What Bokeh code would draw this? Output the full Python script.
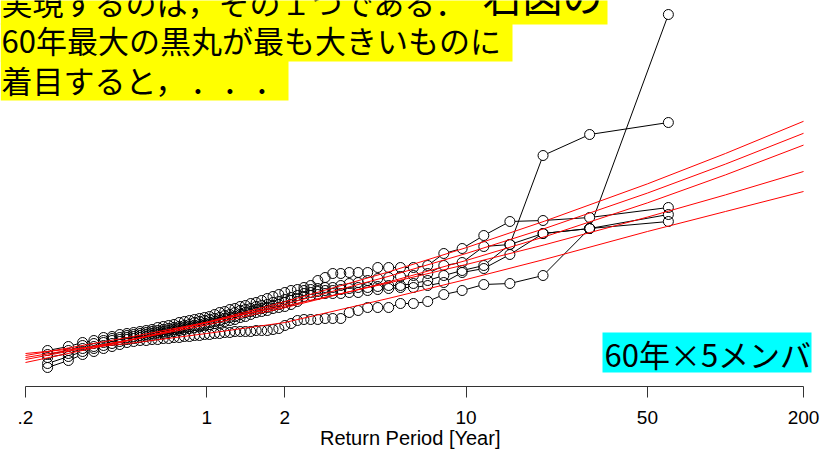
from bokeh.plotting import figure
from bokeh.models import Range1d, FixedTicker, Label, BoxAnnotation
from bokeh.embed import file_html
from bokeh.resources import INLINE

# plotting positions (return period, years) of the 60 ranked annual maxima
return_period = [0.2433, 0.2926, 0.3320, 0.3670, 0.3998, 0.4312, 0.4619, 0.4922, 0.5226, 0.5530,
                 0.5838, 0.6150, 0.6468, 0.6794, 0.7129, 0.7472, 0.7827, 0.8193, 0.8573, 0.8967,
                 0.9377, 0.9805, 1.025, 1.072, 1.121, 1.173, 1.227, 1.284, 1.345, 1.409,
                 1.477, 1.550, 1.628, 1.711, 1.800, 1.896, 2.000, 2.113, 2.236, 2.370,
                 2.517, 2.680, 2.860, 3.061, 3.287, 3.542, 3.834, 4.172, 4.564, 5.028,
                 5.584, 6.262, 7.112, 8.203, 9.653, 11.70, 14.75, 19.80, 29.94, 60.24]

# sorted 60-year maxima of the five ensemble members
member_1 = [18, 20, 22, 23, 24.5, 25, 26, 26.5, 27, 27.5,
            28, 28.5, 29.5, 30, 30.5, 31, 32, 32.5, 33, 33.5,
            34, 34.5, 35, 36, 37, 37.5, 38.5, 39, 40, 40.5,
            41.5, 42, 43, 44, 45, 46, 47, 48, 48.5, 49.5,
            50.5, 53, 54.5, 56.5, 56.5, 57, 57, 57, 59.5, 59.5,
            59.5, 59.5, 60.5, 66.5, 69, 75.5, 82.5, 83, 84.5, 89.5]
member_2 = [16, 18, 20.5, 21.5, 23, 24, 24.5, 25.5, 26, 26.5,
            27, 27.5, 28, 28.5, 29, 29.5, 30, 30.5, 31, 32,
            32.5, 33, 33.5, 34, 34.5, 35.5, 36, 37, 38, 38.5,
            39, 40, 40.5, 41, 42, 42.5, 43.5, 44.5, 45.5, 48,
            48.5, 49, 49.5, 49.5, 50.5, 51.5, 52, 53, 54, 54.5,
            55, 55.5, 56.5, 60.5, 62, 70, 71, 115.5, 126, 132]
member_3 = [14.5, 16.5, 19, 20, 22, 23, 23.5, 24.5, 25, 25.5,
            26, 26.5, 27, 27.5, 28, 28.5, 29, 29.5, 30, 30.5,
            31, 31.5, 32, 32.5, 33, 34, 34.5, 35, 36, 37,
            37.5, 38.5, 39, 39.5, 40.5, 41, 42, 43, 44, 46.5,
            47, 47.5, 48, 48, 48.5, 49, 49.5, 49.5, 50, 50.5,
            50.5, 51.5, 53, 55.5, 58, 60.5, 71, 76.5, 79, 86]
member_4 = [11.5, 15, 17.5, 19, 20.5, 21.5, 22.5, 23.5, 24, 24.5,
            25, 25.5, 26, 26.5, 27, 27.5, 28, 28.5, 29, 29.5,
            30, 30.5, 31, 31.5, 32, 32.5, 33, 33.5, 34.5, 35,
            36, 37, 37.5, 38, 39, 39.5, 40, 41, 42.5, 45,
            45.5, 46, 46.5, 46.5, 46.5, 47, 47, 48, 48.5, 49,
            49.5, 49.5, 50.5, 52, 57, 59, 66, 76.5, 79, 82.5]
member_5 = [9.5, 13, 16, 17.5, 19, 20, 21, 22, 22.5, 23,
            23, 23.5, 23.5, 24, 24, 24.5, 24.5, 25, 25, 25.5,
            25.5, 26, 26, 26.5, 26.5, 27, 27, 27.5, 27.5, 27.5,
            27.5, 28, 28, 28, 28.5, 29, 30.5, 31.5, 33, 33.5,
            33.5, 33.5, 34, 34, 34, 37, 38, 39.5, 39.5, 39.5,
            41.5, 41.5, 42.5, 46, 48, 51, 51.5, 55.5, 79, 186]

# fitted return-level curves of the five members
fit_period = [0.2, 0.5, 1, 2, 5, 10, 20, 50, 100, 200]
fit_1 = [12, 22.9, 32.2, 42.4, 57.2, 69.4, 82.6, 101.3, 116.5, 132.6]
fit_2 = [13.5, 23.3, 31.8, 41.2, 55, 66.5, 78.9, 96.7, 111.2, 126.6]
fit_3 = [14.5, 23.1, 30.8, 39.4, 52.2, 63, 74.8, 91.8, 105.8, 120.7]
fit_4 = [15.5, 24.6, 32.1, 40.2, 51.7, 61, 70.8, 84.7, 95.8, 107.5]
fit_5 = [16.5, 21.5, 26.5, 32, 44, 53.5, 63.5, 77.5, 87.5, 97.5]

tick_vals = [0.2, 1, 2, 10, 50, 200]
tick_labels = [".2", "1", "2", "10", "50", "200"]

note_line1a = "実現するのは，その１つである．"
note_line1b = "右図の"
note_line2 = "60年最大の黒丸が最も大きいものに"
note_line3 = "着目すると，"
note_dot = "．"
member_note = "60年×5メンバ"
x_title = "Return Period  [Year]"

members = [member_1, member_2, member_3, member_4, member_5]
fits = [fit_1, fit_2, fit_3, fit_4, fit_5]

p = figure(frame_width=825, frame_height=386, x_axis_type="log",
           x_range=Range1d(0.16017, 243.1), y_range=Range1d(0, 193),
           y_axis_location=None, output_backend="svg", toolbar_location=None,
           min_border_left=0, min_border_right=0, min_border_top=0, min_border_bottom=65,
           outline_line_color=None, background_fill_color="white", border_fill_color="white")
p.grid.visible = False

ax = p.xaxis[0]
ax.ticker = FixedTicker(ticks=tick_vals)
ax.bounds = (tick_vals[0], tick_vals[-1])
ax.major_label_overrides = dict(zip(tick_vals, tick_labels))
ax.axis_line_color = "#333333"
ax.axis_line_width = 1
ax.major_tick_line_color = "#333333"
ax.major_tick_out = 11
ax.major_tick_in = 0
ax.minor_tick_line_color = None
ax.major_label_standoff = 13
ax.major_label_text_font = "Liberation Sans"
ax.major_label_text_font_size = "19px"
ax.major_label_text_color = "black"
ax.axis_label = x_title
ax.axis_label_text_font = "Liberation Sans"
ax.axis_label_text_font_size = "20px"
ax.axis_label_text_font_style = "normal"
ax.axis_label_text_color = "black"
ax.axis_label_standoff = 0

# annotation boxes (behind text)
CJK = "Noto Sans CJK JP"
boxes = [(0, 607, 362, 400, "#FFFF00"), (0, 512, 325, 363, "#FFFF00"),
         (0, 288, 286, 326, "#FFFF00"), (602, 811, 14, 54, "#00FFFF")]
for l, r, b, t, c in boxes:
    p.add_layout(BoxAnnotation(left=l, right=r, bottom=b, top=t,
                               left_units="screen", right_units="screen",
                               bottom_units="screen", top_units="screen",
                               fill_color=c, fill_alpha=1, line_color=None,
                               level="underlay"))

for m in members:
    p.line(return_period, m, line_color="black", line_width=1)
for m in members:
    p.scatter(return_period, m, marker="circle", size=10, fill_color="white", line_color=None)
for m in members:
    p.scatter(return_period, m, marker="circle", size=10, fill_color=None,
              line_color="black", line_width=1)
for f in fits:
    p.line(fit_period, f, line_color="red", line_width=1)

texts = [(note_line1a, 1, 385, "31px"), (note_line1b, 482, 392, "40px"),
         (note_line2, 1, 347, "31px"), (note_line3, 1, 307, "31px"),
         (note_dot, 190, 307, "31px"), (note_dot, 222, 307, "31px"),
         (note_dot, 254, 307, "31px"),
         (member_note, 604, 33, "31px")]
for txt, x, y, fs in texts:
    p.add_layout(Label(x=x, y=y, x_units="screen", y_units="screen", text=txt,
                       text_font=CJK, text_font_size=fs, text_color="black",
                       text_baseline="alphabetic", text_align="left"))

open("out.html", "w").write(file_html(p, INLINE))
